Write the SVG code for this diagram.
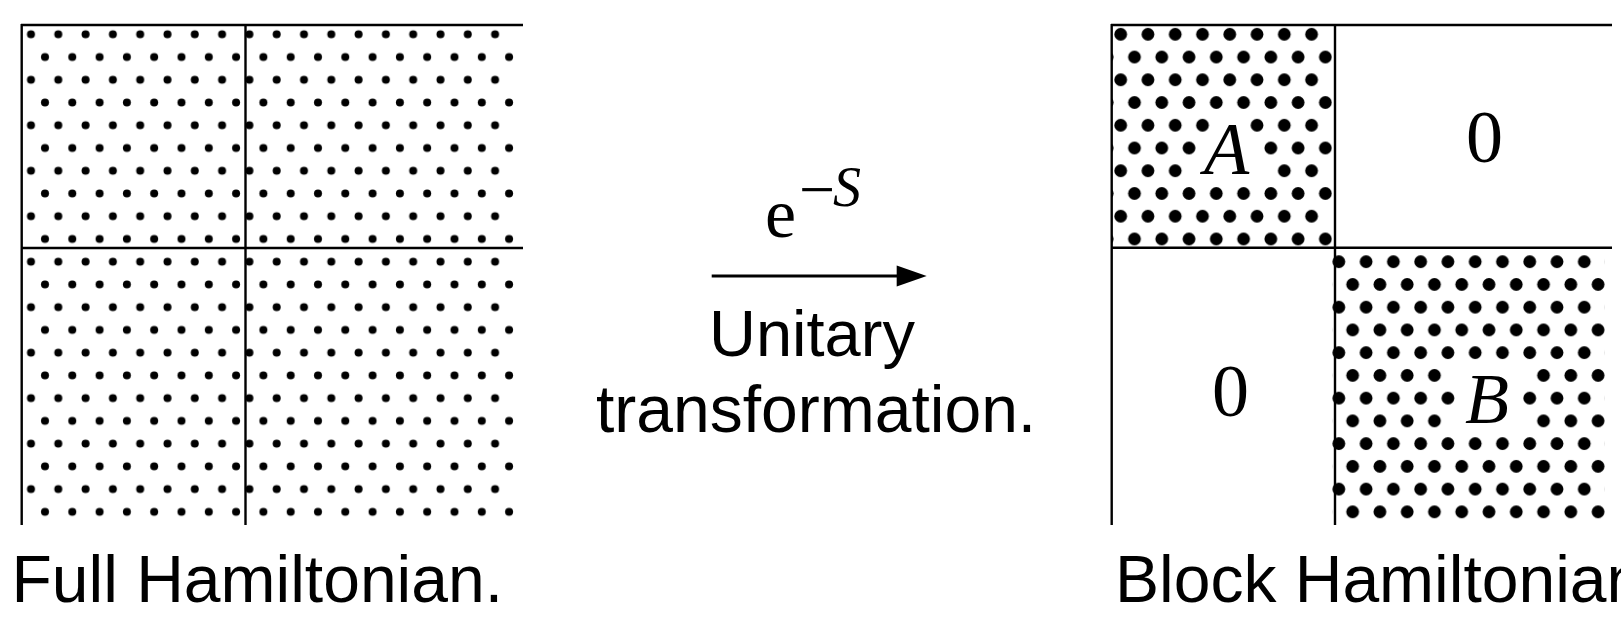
<svg xmlns="http://www.w3.org/2000/svg" width="1621" height="619" viewBox="0 0 1621 619">
  <style>
    .grid{stroke:#000;stroke-width:2.4;fill:none}
    .sans{font-family:"Liberation Sans",Arial,Helvetica,sans-serif;fill:#000}
    .serif{font-family:"Liberation Serif","Times New Roman",serif;fill:#000}
  </style>
  <defs>
    <pattern id="dotsSmall" patternUnits="userSpaceOnUse" x="24.5" y="22.93" width="27.3" height="45.48">
      <circle cx="6.5" cy="11.37" r="4" fill="#000"/>
      <circle cx="20.5" cy="34.11" r="4" fill="#000"/>
    </pattern>
    <pattern id="dotsBig" patternUnits="userSpaceOnUse" x="1114" y="22.93" width="27.27" height="45.48">
      <circle cx="6.7" cy="11.37" r="6.4" fill="#000"/>
      <circle cx="20.5" cy="34.11" r="6.4" fill="#000"/>
    </pattern>
    <mask id="maskA" maskUnits="userSpaceOnUse" x="1100" y="0" width="260" height="260">
      <rect x="1100" y="0" width="260" height="260" fill="#fff"/>
      <rect x="1216" y="117" width="28" height="19" fill="#000"/>
      <rect x="1202" y="136" width="55" height="23" fill="#000"/>
      <rect x="1189" y="159" width="82" height="22" fill="#000"/>
    </mask>
    <mask id="maskB" maskUnits="userSpaceOnUse" x="1320" y="240" width="301" height="300">
      <rect x="1320" y="240" width="301" height="300" fill="#fff"/>
      <rect x="1450" y="364" width="80" height="23" fill="#000"/>
      <rect x="1462" y="387" width="54" height="22" fill="#000"/>
      <rect x="1450" y="409" width="80" height="23" fill="#000"/>
    </mask>
  </defs>

  <rect width="1621" height="619" fill="#fff"/>

  <g id="full-hamiltonian">
    <rect x="22" y="25" width="494" height="500" fill="url(#dotsSmall)"/>
    <line class="grid" x1="21" y1="25" x2="523" y2="25"/>
    <line class="grid" x1="21.7" y1="24" x2="21.7" y2="525"/>
    <line class="grid" x1="245.5" y1="25" x2="245.5" y2="525"/>
    <line class="grid" x1="21" y1="248" x2="523" y2="248"/>
    <text class="sans" x="11.5" y="601.5" font-size="66">Full Hamiltonian.</text>
  </g>

  <g id="block-hamiltonian">
    <rect x="1112" y="25" width="220" height="223" fill="url(#dotsBig)" mask="url(#maskA)"/>
    <rect x="1332" y="248" width="273" height="277" fill="url(#dotsBig)" mask="url(#maskB)"/>
    <line class="grid" x1="1111" y1="25" x2="1612" y2="25"/>
    <line class="grid" x1="1111.7" y1="24" x2="1111.7" y2="525"/>
    <line class="grid" x1="1335" y1="25" x2="1335" y2="525"/>
    <line class="grid" x1="1111" y1="247.7" x2="1612" y2="247.7"/>
    <text class="serif" x="1204" y="174" font-size="74" font-style="italic">A</text>
    <text class="serif" x="1465" y="423" font-size="72" font-style="italic">B</text>
    <text class="serif" x="1484.5" y="162" font-size="74" text-anchor="middle">0</text>
    <text class="serif" x="1230.5" y="416" font-size="74" text-anchor="middle">0</text>
    <text class="sans" x="1115" y="601.5" font-size="66">Block Hamiltonian.</text>
  </g>

  <g id="connectors">
    <line x1="711.7" y1="276" x2="900" y2="276" stroke="#000" stroke-width="3"/>
    <polygon points="896.7,265.5 926.7,276 896.7,286.5" fill="#000"/>
  </g>

  <g id="transform-label">
    <text class="serif"><tspan x="765" y="237" font-size="70">e</tspan><tspan x="799" y="211" font-size="64">−</tspan><tspan x="833" y="206" font-size="56" font-style="italic">S</tspan></text>
    <text class="sans" x="709" y="356" font-size="65">Unitary</text>
    <text class="sans" x="596" y="432" font-size="66">transformation.</text>
  </g>
</svg>
